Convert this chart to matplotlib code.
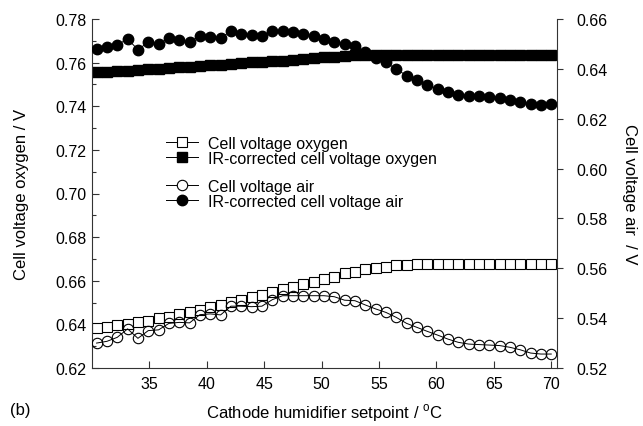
import matplotlib
matplotlib.use("Agg")
import matplotlib.pyplot as plt
from matplotlib.lines import Line2D

plt.rcParams['font.family'] = ['Liberation Sans', 'DejaVu Sans']
plt.rcParams['mathtext.fontset'] = 'custom'
plt.rcParams['mathtext.rm'] = 'Liberation Sans'
plt.rcParams['font.size'] = 11

# humidifier setpoint (deg C)
temps = [30.4, 31.3, 32.2, 33.1, 34.0, 34.9, 35.8, 36.7, 37.6, 38.5,
         39.4, 40.3, 41.2, 42.1, 43.0, 43.9, 44.8, 45.7, 46.6, 47.5,
         48.4, 49.3, 50.2, 51.1, 52.0, 52.9, 53.8, 54.7, 55.6, 56.5,
         57.4, 58.3, 59.2, 60.1, 61.0, 61.9, 62.8, 63.7, 64.6, 65.5,
         66.4, 67.3, 68.2, 69.1, 70.0]

# left axis, oxygen
v_oxygen = [0.6382, 0.6389, 0.6397, 0.6401, 0.6409, 0.6416, 0.6427, 0.6436, 0.6447, 0.6457,
            0.6467, 0.6478, 0.6489, 0.6501, 0.6512, 0.6524, 0.6535, 0.6547, 0.6562, 0.6573,
            0.6585, 0.6596, 0.6608, 0.6618, 0.6634, 0.6642, 0.6652, 0.6659, 0.6664, 0.6670,
            0.6674, 0.6677, 0.6677, 0.6677, 0.6677, 0.6677, 0.6677, 0.6677, 0.6677, 0.6675,
            0.6675, 0.6675, 0.6675, 0.6675, 0.6675]
v_oxygen_ir = [0.7556, 0.7558, 0.7563, 0.7563, 0.7568, 0.7571, 0.7571, 0.7575, 0.7578, 0.7581,
               0.7586, 0.7589, 0.7591, 0.7594, 0.7597, 0.7601, 0.7604, 0.7606, 0.7609, 0.7613,
               0.7617, 0.7620, 0.7624, 0.7628, 0.7631, 0.7634, 0.7635, 0.7636, 0.7636, 0.7636,
               0.7637, 0.7636, 0.7636, 0.7636, 0.7637, 0.7636, 0.7636, 0.7636, 0.7636, 0.7636,
               0.7636, 0.7635, 0.7636, 0.7635, 0.7635]

# right axis, air
v_air = [0.5300, 0.5307, 0.5323, 0.5357, 0.5319, 0.5350, 0.5353, 0.5379, 0.5383, 0.5381,
         0.5414, 0.5417, 0.5413, 0.5448, 0.5448, 0.5446, 0.5448, 0.5474, 0.5490, 0.5490,
         0.5490, 0.5490, 0.5490, 0.5486, 0.5472, 0.5470, 0.5453, 0.5437, 0.5423, 0.5403,
         0.5379, 0.5363, 0.5347, 0.5332, 0.5316, 0.5303, 0.5296, 0.5294, 0.5292, 0.5290,
         0.5283, 0.5273, 0.5260, 0.5256, 0.5256]
v_air_ir = [0.6480, 0.6487, 0.6496, 0.6520, 0.6477, 0.6507, 0.6500, 0.6523, 0.6516, 0.6507,
            0.6533, 0.6528, 0.6524, 0.6551, 0.6541, 0.6536, 0.6531, 0.6553, 0.6551, 0.6547,
            0.6539, 0.6531, 0.6521, 0.6509, 0.6500, 0.6493, 0.6466, 0.6442, 0.6426, 0.6399,
            0.6373, 0.6355, 0.6337, 0.6319, 0.6306, 0.6295, 0.6292, 0.6292, 0.6288, 0.6284,
            0.6275, 0.6268, 0.6258, 0.6255, 0.6259]

fig = plt.figure(figsize=(6.43, 4.27), dpi=100)
ax = fig.add_axes([92/643, 1-369/427, (557-92)/643, (369-20)/427])
ax2 = ax.twinx()

lw = 0.7
sq = 6.5
ci = 7.5
ax.plot(temps, v_oxygen, '-s', color='black', lw=lw, ms=sq, mfc='white', mec='black', mew=0.8)
ax.plot(temps, v_oxygen_ir, '-s', color='black', lw=lw, ms=sq, mfc='black', mec='black')
ax2.plot(temps, v_air, '-o', color='black', lw=lw, ms=ci, mfc='none', mec='black', mew=0.8)
ax2.plot(temps, v_air_ir, '-o', color='black', lw=lw, ms=ci, mfc='black', mec='black')

ax.set_xlim(30, 70.5)
ax.set_ylim(0.62, 0.78)
ax2.set_ylim(0.52, 0.66)

ax.set_xticks([35, 40, 45, 50, 55, 60, 65, 70])
ax.set_yticks([0.62, 0.64, 0.66, 0.68, 0.70, 0.72, 0.74, 0.76, 0.78])
ax.set_yticks([0.63, 0.65, 0.67, 0.69, 0.71, 0.73, 0.75, 0.77], minor=True)
ax2.set_yticks([0.52, 0.54, 0.56, 0.58, 0.60, 0.62, 0.64, 0.66])
ax.yaxis.set_major_formatter(matplotlib.ticker.FormatStrFormatter('%.2f'))
ax2.yaxis.set_major_formatter(matplotlib.ticker.FormatStrFormatter('%.2f'))

for a in (ax, ax2):
    a.spines['top'].set_visible(False)
    for s in ('left', 'right', 'bottom'):
        a.spines[s].set_linewidth(0.8)
        a.spines[s].set_color('#333333')
ax.spines['right'].set_visible(False)
ax2.spines['left'].set_visible(False)
ax2.spines['bottom'].set_visible(False)

ax.tick_params(axis='both', which='major', direction='in', length=5, width=0.8,
               colors='#333333', labelcolor='black', labelsize=11.5, pad=4)
ax.tick_params(axis='x', which='major', pad=6)
ax.tick_params(axis='y', which='minor', direction='in', length=3, width=0.8, colors='#333333')
ax2.tick_params(axis='y', which='major', direction='out', length=4, width=0.8,
                colors='#333333', labelcolor='black', labelsize=11.5, pad=10)

ax.set_ylabel("Cell voltage oxygen / V", fontsize=12, labelpad=19)
ax2.set_ylabel("Cell voltage air  / V", fontsize=12, rotation=-90, labelpad=21)
ax.set_xlabel(r"Cathode humidifier setpoint / $^\mathrm{o}$C", fontsize=12, labelpad=7)
fig.text(10/643, 1-411/427, "(b)", fontsize=12, va='center')

h_oxy = [
    Line2D([], [], color='black', lw=lw, marker='s', ms=sq, mfc='white', mec='black', mew=0.8),
    Line2D([], [], color='black', lw=lw, marker='s', ms=sq, mfc='black', mec='black'),
]
h_air = [
    Line2D([], [], color='black', lw=lw, marker='o', ms=ci, mfc='white', mec='black', mew=0.8),
    Line2D([], [], color='black', lw=lw, marker='o', ms=ci, mfc='black', mec='black'),
]
fig.legend(h_oxy, ["Cell voltage oxygen", "IR-corrected cell voltage oxygen"],
           loc='upper left', bbox_to_anchor=(158/643, 1-129/427),
           frameon=False, fontsize=11.5, borderpad=0, labelspacing=0.0,
           handlelength=2.0, handletextpad=0.6)
fig.legend(h_air, ["Cell voltage air", "IR-corrected cell voltage air"],
           loc='upper left', bbox_to_anchor=(158/643, 1-172/427),
           frameon=False, fontsize=11.5, borderpad=0, labelspacing=0.0,
           handlelength=2.0, handletextpad=0.6)

fig.savefig("out.png", dpi=100)
